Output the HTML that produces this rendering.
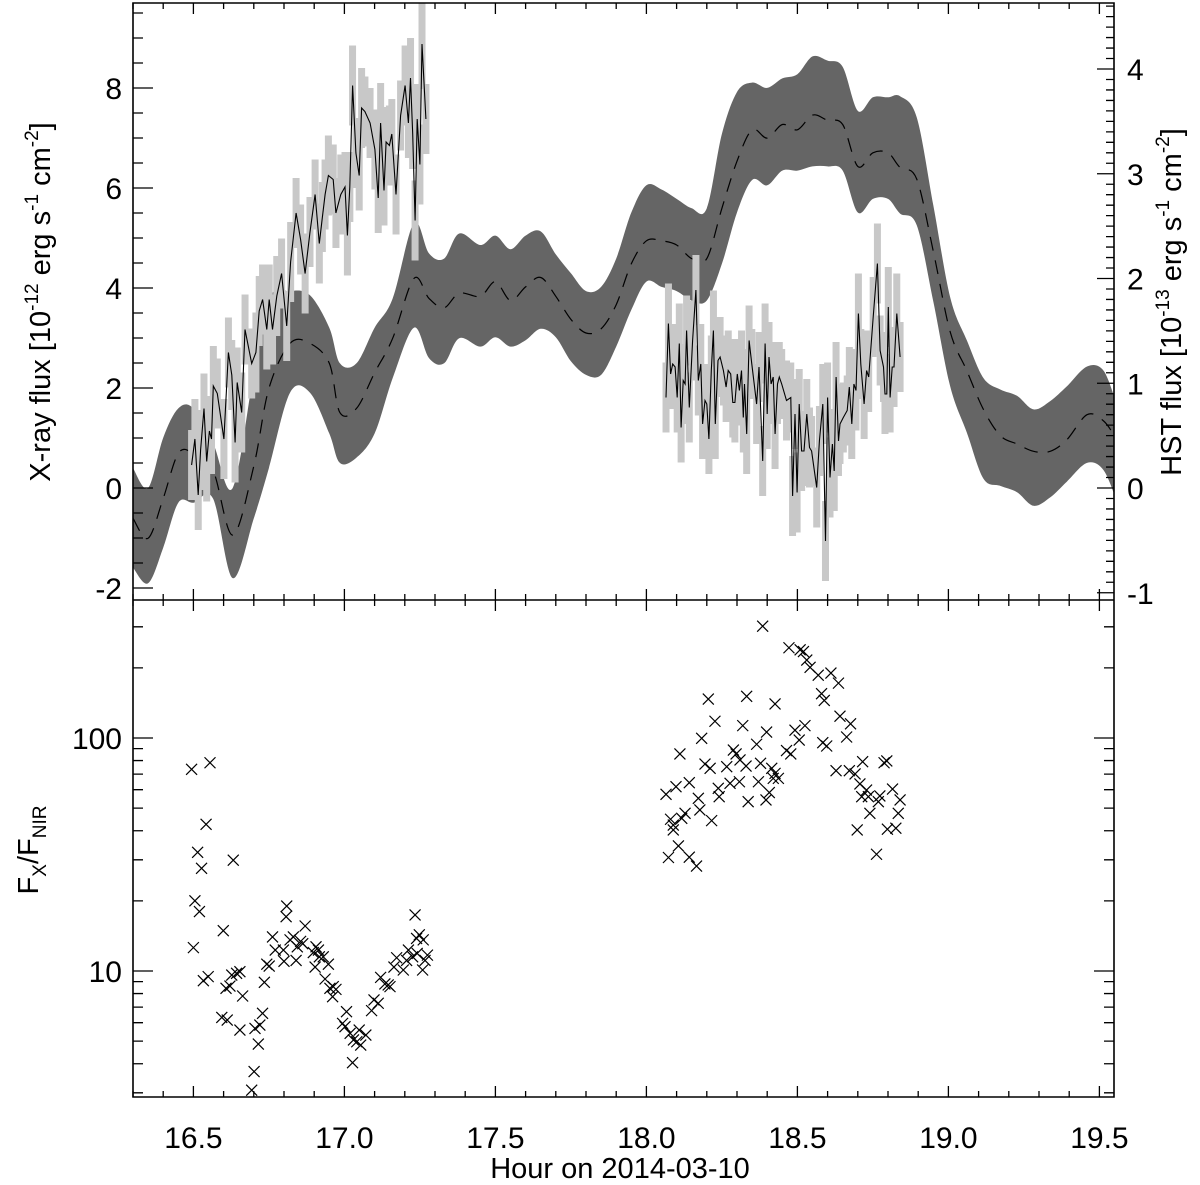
<!DOCTYPE html>
<html><head><meta charset="utf-8"><style>
html,body{margin:0;padding:0;background:#fff;}
svg{display:block;font-family:"Liberation Sans",Arial,sans-serif;}
</style></head><body>
<svg id="chart" width="1200" height="1185" viewBox="0 0 1200 1185" xmlns="http://www.w3.org/2000/svg">
<defs><clipPath id="clipTop"><rect x="133" y="3" width="981" height="597"/></clipPath>
<clipPath id="clipBot"><rect x="133" y="600" width="981" height="497"/></clipPath></defs>
<g id="topPlot" clip-path="url(#clipTop)"></g>
<g id="botPlot" clip-path="url(#clipBot)"></g>
<g id="axes"></g>
<text x="620" y="1178" font-size="29" text-anchor="middle">Hour on 2014-03-10</text>
<text transform="translate(50,302) rotate(-90)" font-size="29" text-anchor="middle">X-ray flux [10<tspan font-size="19" dy="-12">-12</tspan><tspan dy="12"> erg s</tspan><tspan font-size="19" dy="-12">-1</tspan><tspan dy="12"> cm</tspan><tspan font-size="19" dy="-12">-2</tspan><tspan dy="12">]</tspan></text>
<text transform="translate(1181,302) rotate(-90)" font-size="29" text-anchor="middle">HST flux [10<tspan font-size="19" dy="-12">-13</tspan><tspan dy="12"> erg s</tspan><tspan font-size="19" dy="-12">-1</tspan><tspan dy="12"> cm</tspan><tspan font-size="19" dy="-12">-2</tspan><tspan dy="12">]</tspan></text>
<text transform="translate(38,850) rotate(-90)" font-size="29" text-anchor="middle">F<tspan font-size="19" dy="8">X</tspan><tspan dy="-8">/F</tspan><tspan font-size="19" dy="8">NIR</tspan></text>
</svg>
<script>
// ---- HST band data (HST flux units) ----
const bandT = [16.30,16.35,16.40,16.45,16.50,16.565,16.63,16.70,16.75,16.82,16.886,16.95,16.985,17.04,17.10,17.16,17.23,17.28,17.33,17.38,17.45,17.50,17.55,17.60,17.65,17.70,17.75,17.80,17.85,17.90,17.95,18.00,18.05,18.10,18.15,18.20,18.25,18.30,18.35,18.40,18.45,18.50,18.55,18.60,18.65,18.70,18.75,18.80,18.840,18.895,18.950,19.006,19.061,19.116,19.172,19.227,19.282,19.337,19.392,19.459,19.514,19.558];
const bandLo = [-0.76,-0.91,-0.57,-0.14,-0.14,-0.10,-0.86,-0.29,0.19,0.91,0.91,0.52,0.24,0.29,0.52,1.05,1.53,1.24,1.19,1.43,1.35,1.44,1.35,1.41,1.52,1.44,1.21,1.08,1.08,1.35,1.70,1.97,1.92,1.88,1.79,1.79,2.14,2.63,2.94,2.89,3.03,3.03,3.07,3.07,3.03,2.63,2.76,2.76,2.62,2.51,1.78,0.97,0.53,0.09,0.02,-0.04,-0.17,-0.09,0.06,0.24,0.17,-0.13];
const bandMid = [-0.29,-0.48,-0.10,0.33,0.33,0.17,-0.45,0.21,0.95,1.38,1.38,1.19,0.72,0.76,1.10,1.43,2.00,1.81,1.72,1.86,1.83,1.97,1.79,1.92,2.01,1.83,1.61,1.48,1.52,1.75,2.14,2.36,2.36,2.32,2.19,2.19,2.67,3.12,3.42,3.34,3.47,3.42,3.56,3.51,3.47,3.07,3.20,3.20,3.06,2.95,2.26,1.49,1.12,0.75,0.50,0.42,0.35,0.35,0.46,0.70,0.64,0.46];
const bandHi = [0.19,0.00,0.48,0.76,0.76,0.43,0.00,1.10,1.81,1.88,1.84,1.53,1.19,1.19,1.53,1.81,2.53,2.24,2.19,2.43,2.32,2.41,2.28,2.41,2.45,2.23,2.05,1.88,1.92,2.19,2.63,2.89,2.85,2.76,2.67,2.67,3.38,3.78,3.87,3.82,3.91,3.95,4.12,4.08,4.02,3.60,3.73,3.73,3.74,3.54,2.70,1.82,1.41,1.05,0.94,0.88,0.75,0.83,0.97,1.16,1.12,0.79];

// ---- X-ray light curve segment 1 ----
const x1T = [16.494,16.505,16.516,16.524,16.535,16.544,16.553,16.560,16.566,16.579,16.601,16.616,16.627,16.638,16.645,16.660,16.671,16.693,16.707,16.718,16.729,16.743,16.751,16.762,16.776,16.792,16.809,16.822,16.840,16.855,16.870,16.886,16.903,16.917,16.927,16.936,16.947,16.963,16.972,16.988,17.002,17.010,17.018,17.027,17.038,17.049,17.057,17.068,17.085,17.101,17.112,17.120,17.131,17.138,17.149,17.157,17.171,17.186,17.201,17.212,17.219,17.226,17.234,17.241,17.250,17.257,17.270];
const x1V = [0.46,0.98,-0.14,0.76,1.59,0.53,1.14,0.98,2.04,1.89,0.98,2.71,2.26,0.91,2.11,1.51,3.17,2.49,2.71,3.54,3.77,3.17,3.77,3.17,3.84,4.29,3.24,4.52,5.50,4.97,4.29,5.12,5.87,4.89,5.42,5.87,6.25,6.17,5.50,5.87,6.02,5.05,6.02,8.05,6.70,6.25,7.60,7.53,7.30,6.77,5.80,7.30,5.95,6.92,6.85,7.08,5.87,7.45,8.05,7.30,8.20,7.08,5.35,7.38,6.47,8.88,7.38];
const x1E = [0.7,0.8,0.7,0.8,0.7,0.8,0.7,0.7,0.8,0.7,0.8,0.7,0.7,0.8,0.7,0.8,0.7,0.7,0.8,0.7,0.7,0.8,0.7,0.7,0.8,0.7,0.7,0.8,0.7,0.7,0.8,0.7,0.7,0.8,0.7,0.7,0.8,0.7,0.7,0.8,0.7,0.8,0.7,0.8,0.7,0.7,0.8,0.7,0.7,0.8,0.7,0.8,0.7,0.7,0.8,0.7,0.8,0.7,0.8,0.7,0.8,0.7,0.8,0.7,0.8,0.9,0.7];

// ---- X-ray light curve segment 2 ----
const x2T = [18.065,18.073,18.080,18.087,18.095,18.102,18.109,18.115,18.122,18.128,18.133,18.142,18.153,18.164,18.172,18.180,18.186,18.194,18.200,18.207,18.215,18.222,18.228,18.237,18.244,18.255,18.264,18.271,18.279,18.286,18.293,18.301,18.308,18.315,18.321,18.325,18.332,18.340,18.349,18.365,18.373,18.385,18.393,18.400,18.406,18.413,18.420,18.426,18.434,18.440,18.448,18.464,18.478,18.484,18.492,18.499,18.506,18.514,18.522,18.531,18.540,18.547,18.564,18.573,18.584,18.593,18.600,18.608,18.616,18.622,18.628,18.636,18.641,18.652,18.665,18.672,18.680,18.687,18.694,18.702,18.710,18.721,18.729,18.736,18.751,18.765,18.774,18.785,18.790,18.796,18.801,18.807,18.814,18.820,18.829,18.840];
const x2V = [1.81,3.29,2.28,2.48,2.42,1.81,2.89,1.21,2.15,2.08,3.15,1.61,2.95,3.96,2.15,2.48,1.28,1.75,1.68,0.98,2.35,3.15,1.28,2.55,2.62,2.35,2.02,2.35,2.28,1.71,1.71,2.28,1.95,2.35,1.41,2.08,1.08,2.95,2.48,1.68,2.42,0.54,2.89,1.48,2.62,2.08,2.22,1.08,2.08,2.22,2.08,1.75,1.81,-0.16,1.48,-0.09,1.68,0.74,0.74,1.48,0.81,0.74,0.01,0.94,1.68,-1.06,1.81,0.21,0.88,0.34,2.22,0.94,1.28,1.41,1.55,2.02,1.28,2.08,1.95,3.49,2.48,1.68,2.35,2.22,3.42,4.49,2.75,2.42,1.88,1.88,3.62,1.81,2.42,2.42,3.49,2.62];
const x2E = [0.7,0.8,0.7,0.8,0.7,0.7,0.8,0.7,0.7,0.8,0.7,0.7,0.8,0.7,0.7,0.8,0.7,0.7,0.8,0.7,0.7,0.8,0.7,0.7,0.8,0.7,0.7,0.8,0.7,0.7,0.8,0.7,0.7,0.8,0.7,0.7,0.8,0.7,0.7,0.8,0.7,0.7,0.8,0.7,0.7,0.8,0.7,0.7,0.8,0.7,0.7,0.8,0.7,0.8,0.7,0.8,0.7,0.8,0.7,0.7,0.8,0.7,0.8,0.7,0.8,0.8,0.7,0.8,0.7,0.8,0.7,0.7,0.8,0.7,0.7,0.8,0.7,0.7,0.8,0.8,0.7,0.7,0.8,0.7,0.8,0.8,0.7,0.7,0.8,0.7,0.8,0.7,0.7,0.8,0.8,0.7];

// ---- F_X / F_NIR ratio scatter ----
const ratioT = [16.494,16.555,16.542,16.514,16.527,16.632,16.505,16.520,16.599,16.500,16.533,16.549,16.608,16.621,16.627,16.643,16.654,16.663,16.594,16.612,16.654,16.704,16.720,16.729,16.715,16.701,16.693,16.735,16.743,16.751,16.762,16.771,16.798,16.800,16.809,16.807,16.820,16.831,16.840,16.844,16.855,16.862,16.870,16.897,16.906,16.914,16.917,16.903,16.930,16.947,16.936,16.952,16.963,16.972,16.961,17.007,16.994,17.002,17.019,17.030,17.041,17.054,17.049,17.071,17.027,17.090,17.098,17.112,17.120,17.134,17.145,17.151,17.164,17.173,17.195,17.206,17.212,17.226,17.239,17.248,17.234,17.241,17.259,17.267,17.275,17.261,
18.385,18.472,18.509,18.520,18.531,18.542,18.569,18.611,18.636,18.580,18.589,18.205,18.332,18.426,18.227,18.319,18.398,18.492,18.525,18.641,18.676,18.663,18.183,18.365,18.506,18.584,18.597,18.464,18.478,18.111,18.288,18.297,18.194,18.211,18.266,18.310,18.330,18.378,18.415,18.426,18.437,18.628,18.672,18.691,18.716,18.796,18.787,18.142,18.098,18.065,18.238,18.277,18.308,18.371,18.420,18.172,18.177,18.241,18.337,18.396,18.407,18.707,18.729,18.713,18.735,18.773,18.815,18.840,18.768,18.740,18.834,18.128,18.117,18.080,18.089,18.216,18.089,18.698,18.798,18.826,18.106,18.073,18.142,18.166,18.762];
const ratioV = [73.4,78.3,42.6,32.3,27.6,29.9,20.0,18.0,14.9,12.6,9.09,9.46,8.43,8.62,9.61,9.77,9.93,7.81,6.32,6.16,5.58,5.67,5.86,6.58,4.86,3.70,3.08,8.94,10.7,10.5,14.0,12.3,12.3,11.0,19.0,17.1,13.6,14.0,11.1,12.7,13.4,13.1,15.6,12.0,12.7,12.3,11.5,10.4,11.5,10.7,9.24,8.43,8.57,8.34,7.76,6.69,5.96,5.77,5.40,5.06,4.97,4.81,5.58,5.31,4.04,6.76,7.51,7.27,9.39,8.80,8.71,8.57,10.4,11.4,10.1,11.1,12.3,11.5,13.8,14.3,17.4,11.9,10.1,11.1,11.7,13.6,
302,244,239,235,216,201,186,190,172,155,145,147,151,140,118,113,106,108,113,124,115,101,99.7,94,98,95.5,92.4,88.3,85.4,85.4,88.8,85.4,77.3,74.1,75.3,80.5,75.8,77.9,74.1,70.5,67.1,72.4,72.4,70.1,79.1,79.7,78.3,64.3,61.8,57.3,60.8,63.9,64.9,64.9,67.1,55.1,49.1,56.0,53.3,54.2,58.3,63.5,59.8,56.0,56.0,56.4,60.4,54.2,53.3,47.5,47.5,47.5,45.2,44.8,42.3,44.2,40.3,40.3,40.6,41.0,34.4,30.7,30.8,28.2,31.7];

// ---- tick labels ----
const xTickLabels = ["16.5","17.0","17.5","18.0","18.5","19.0","19.5"];
const leftTickLabels = ["-2","0","2","4","6","8"];
const rightTickLabels = ["-1","0","1","2","3","4"];
const ratioTickLabels = ["10","100"];

// ---- scales ----
const X0=133, X1=1114, YT=3, YM=600, YB=1097;
const xS = t => X0 + (t-16.3)*302;
const yX = v => 488 - 50*v;
const yH = h => 488 - 104.75*h;
const yL = v => 971 - 233*(Math.log10(v)-1);

const NS='http://www.w3.org/2000/svg';
function mk(tag, attrs, parent){const e=document.createElementNS(NS,tag);for(const k in attrs)e.setAttribute(k,attrs[k]);parent.appendChild(e);return e;}
function crSeg(pts){
  let d='';
  for(let i=0;i<pts.length-1;i++){
    const p0=pts[Math.max(i-1,0)],p1=pts[i],p2=pts[i+1],p3=pts[Math.min(i+2,pts.length-1)];
    const c1x=p1[0]+(p2[0]-p0[0])/6,c1y=p1[1]+(p2[1]-p0[1])/6;
    const c2x=p2[0]-(p3[0]-p1[0])/6,c2y=p2[1]-(p3[1]-p1[1])/6;
    d+=` C${c1x.toFixed(1)},${c1y.toFixed(1)} ${c2x.toFixed(1)},${c2y.toFixed(1)} ${p2[0].toFixed(1)},${p2[1].toFixed(1)}`;
  }
  return d;
}
const topG=document.getElementById('topPlot'), botG=document.getElementById('botPlot'), axG=document.getElementById('axes');

// band
const upPts=bandT.map((t,i)=>[xS(t),yH(bandHi[i])]);
const loPts=bandT.map((t,i)=>[xS(t),yH(bandLo[i])]).reverse();
const band=mk('path',{d:`M${upPts[0][0]},${upPts[0][1]}`+crSeg(upPts)+` L${loPts[0][0]},${loPts[0][1]}`+crSeg(loPts)+' Z',fill:'#656565',stroke:'none'},topG);


const midPts=bandT.map((t,i)=>[xS(t),yH(bandMid[i])]);
const midLine=mk('path',{d:`M${midPts[0][0]},${midPts[0][1]}`+crSeg(midPts),fill:'none',stroke:'#000','stroke-width':1.2,'stroke-dasharray':'14,10'},topG);



// xray segments
function drawSeg(T,V,E,name){
  const g=mk('g',{},topG);
  
  
  T.forEach((t,i)=>{
    const e=(E[i]!==undefined)?E[i]:0.7;
    const r=mk('rect',{x:xS(t)-3.5,y:yX(V[i]+e),width:7,height:yX(V[i]-e)-yX(V[i]+e),fill:'#c8c8c8'},g);
    
    
  });
  const l=mk('polyline',{points:T.map((t,i)=>xS(t).toFixed(1)+','+yX(V[i]).toFixed(1)).join(' '),fill:'none',stroke:'#000','stroke-width':1.1},g);
  
  
}
drawSeg(x1T,x1V,x1E,'xray-segment-1');
drawSeg(x2T,x2V,x2E,'xray-segment-2');

// scatter
ratioT.forEach((t,i)=>{
  const cx=xS(t), cy=yL(ratioV[i]), s=5.5;
  const p=mk('path',{d:`M${cx-s},${cy-s}L${cx+s},${cy+s}M${cx-s},${cy+s}L${cx+s},${cy-s}`,stroke:'#000','stroke-width':1.2,fill:'none'},botG);
  
  
});

// frame
const fr=mk('path',{d:`M${X0},${YT}H${X1}V${YB}H${X0}Z M${X0},${YM}H${X1}`,fill:'none',stroke:'#000','stroke-width':1.6},axG);


let td='';
for(let k=163;k<=196;k++){
  const x=xS(k/10); if(x>X1) break;
  const L=(k%5===0)?11:6;
  td+=`M${x},${YT}v${L}M${x},${YM}v${-L}M${x},${YM}v${L}M${x},${YB}v${-L}`;
}
for(let k=-4;k<=19;k++){const y=yX(k/2); if(y<YT||y>YM) continue; const L=(k%4===0)?20:10; td+=`M${X0},${y}h${L}`;}
for(let k=-10;k<=46;k++){const y=yH(k/10); if(y<YT||y>YM) continue; const L=(k%10===0)?17:8; td+=`M${X1},${y}h${-L}`;}
[1,10,100].forEach(d=>{for(let m=1;m<=9;m++){const y=yL(d*m); if(y<YM||y>YB) continue; const L=(m===1)?20:10; td+=`M${X0},${y}h${L}M${X1},${y}h${-L}`;}});
const tk=mk('path',{d:td,stroke:'#000','stroke-width':1.3,fill:'none'},axG);



function lbl(txt,x,y,anchor,name){
  const e=mk('text',{x:x,y:y,'font-size':30,'text-anchor':anchor},axG);
  e.textContent=txt;
  
  
}
xTickLabels.forEach(s=>lbl(s,xS(parseFloat(s)),1148,'middle','x-tick-label'));
leftTickLabels.forEach(s=>lbl(s,122,yX(parseFloat(s))+11,'end','left-tick-label'));
rightTickLabels.forEach(s=>lbl(s,1127,yH(parseFloat(s))+11,'start','right-tick-label'));
ratioTickLabels.forEach(s=>lbl(s,122,yL(parseFloat(s))+11,'end','ratio-tick-label'));
</script>
</body></html>
